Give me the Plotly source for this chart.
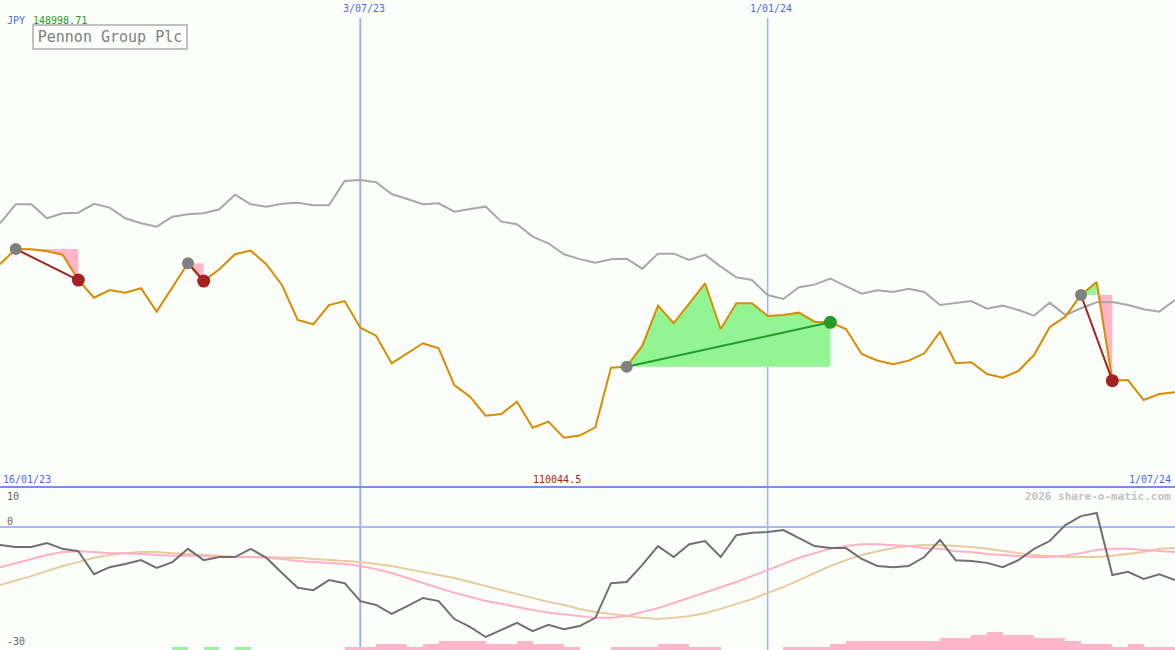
import pandas as pd
import plotly.graph_objects as go

# ---------------- data ----------------
weeks = pd.date_range("2023-01-23", periods=76, freq="7D")

price = [127860, 129080, 129060, 128900, 128630, 126600, 125190, 125800, 125590, 125940,
         124070, 125960, 127940, 126520, 127460, 128660, 128950, 127860, 126200, 123400,
         123060, 124600, 124920, 122790, 122150, 119940, 120740, 121540, 121140, 118200,
         117270, 115750, 115880, 116870, 114790, 115270, 113990, 114160, 114820, 119590,
         119670, 121350, 124550, 123140, 124740, 126340, 122680, 124740, 124740, 123720,
         123800, 123990, 123270, 123220, 122680, 120680, 120160, 119860, 120150, 120740,
         122440, 119940, 120020, 119080, 118790, 119320, 120600, 122820, 123670, 125400,
         126440, 118550, 118600, 117000, 117480, 117620]

relative = [131140, 132660, 132660, 131540, 131940, 131990, 132700, 132390, 131540, 131140,
            130870, 131670, 131860, 131940, 132260, 133420, 132660, 132470, 132700, 132780,
            132580, 132580, 134520, 134600, 134420, 133480, 133080, 132660, 132740, 132070,
            132280, 132470, 131270, 131060, 130070, 129540, 128660, 128270, 127990, 128260,
            128310, 127510, 128710, 128710, 128200, 128630, 127670, 126820, 126600, 125400,
            125080, 126020, 126230, 126710, 126120, 125510, 125780, 125640, 125910, 125640,
            124600, 124740, 124920, 124310, 124550, 124200, 123750, 124790, 123800, 124340,
            124820, 124840, 124600, 124260, 124070, 125000]

osc = [-4.6, -5.1, -5.1, -4.1, -5.6, -6.2, -12.1, -10.3, -9.5, -8.5,
       -10.5, -9.0, -5.6, -8.5, -7.7, -7.7, -5.6, -7.9, -11.8, -15.6,
       -16.2, -13.6, -14.4, -19.0, -20.0, -22.3, -20.3, -18.2, -19.0, -23.6,
       -25.6, -28.2, -26.4, -24.6, -26.7, -25.1, -26.2, -25.4, -23.3, -14.4,
       -14.1, -9.7, -4.9, -7.7, -4.4, -3.6, -7.7, -2.1, -1.5, -1.3,
       -0.8, -2.8, -4.9, -5.4, -5.4, -8.2, -10.0, -10.3, -10.0, -7.7,
       -3.3, -8.5, -8.7, -9.2, -10.3, -8.5, -5.6, -3.6, 0.5, 2.8,
       3.6, -12.3, -11.5, -13.3, -12.1, -13.6]

osc_fast = [-10.3, -9.2, -8.2, -7.2, -6.4, -6.2, -6.4, -6.7, -6.7, -6.9,
            -7.2, -7.4, -7.4, -7.4, -7.7, -7.7, -7.7, -7.9, -8.2, -8.7,
            -9.0, -9.2, -9.5, -10.0, -10.8, -11.8, -13.1, -14.4, -15.6, -16.9,
            -17.9, -19.0, -19.7, -20.5, -21.3, -21.9, -22.4, -22.9, -23.3, -23.3,
            -22.8, -21.8, -20.8, -19.5, -18.2, -16.9, -15.6, -14.1, -12.6, -11.0,
            -9.5, -7.9, -6.7, -5.6, -4.9, -4.4, -4.4, -4.6, -4.9, -5.4,
            -5.6, -6.2, -6.4, -6.9, -7.2, -7.4, -7.7, -7.7, -7.4, -6.7,
            -5.9, -5.6, -5.6, -5.9, -6.2, -6.4]

osc_slow = [-14.9, -13.8, -12.6, -11.3, -10.0, -9.0, -7.9, -7.2, -6.7, -6.4,
            -6.4, -6.7, -6.9, -7.2, -7.4, -7.7, -7.7, -7.7, -7.9, -7.9,
            -8.2, -8.5, -8.7, -9.0, -9.5, -10.0, -10.8, -11.5, -12.3, -13.1,
            -14.1, -15.1, -16.2, -17.2, -18.2, -19.2, -20.0, -21.0, -21.8, -22.3,
            -22.8, -23.3, -23.6, -23.3, -22.8, -22.1, -21.0, -19.7, -18.5, -16.9,
            -15.4, -13.6, -11.8, -10.0, -8.5, -7.2, -6.2, -5.4, -4.9, -4.6,
            -4.6, -4.9, -5.1, -5.6, -6.2, -6.7, -7.2, -7.4, -7.7, -7.7,
            -7.7, -7.4, -6.9, -6.4, -5.6, -5.4]

# signed histogram: positive = pink, negative = green
hist = [0, 0, 0, 0, 0, 0, 0, 0, 0, 0,
        0, -0.77, 0, -0.77, 0, -0.77, 0, 0, 0, 0,
        0, 0, 0.77, 0.77, 1.54, 1.54, 0.77, 1.54, 2.31, 2.31,
        2.31, 1.54, 1.54, 2.31, 1.54, 1.54, 0.77, 0, 0, 0.77,
        0.77, 0.77, 1.54, 1.54, 0.77, 0.77, 0, 0, 0, 0,
        0.77, 0.77, 0.77, 1.54, 2.31, 2.31, 2.31, 2.31, 2.31, 2.31,
        3.08, 3.08, 3.85, 4.62, 3.85, 3.85, 3.08, 3.08, 2.31, 1.54,
        1.54, 0.77, 1.54, 0.77, 0.77, 0]

# trades: (entry week index, exit week index)
trades = [(1, 5), (12, 13), (40, 53), (69, 71)]

PRICE_MIN, PRICE_MAX = 110044.5, 148998.71
OSC_MIN, OSC_MAX = -31.54, 10.0

# ---------------- styles ----------------
BG = "#fcfefc"
FONT = "DejaVu Sans Mono"
ORANGE = "#d98c00"
GREY_LINE = "#a8a8a8"
PINK_FILL = "#ffb6c9"
GREEN_FILL = "#93f493"
RED = "#a52222"
GREEN = "#25992a"
BLUE = "#5566ee"

W, H = 1175, 650
main_bottom = 163 / H
low_top = 162 / H

fig = go.Figure()

# ---------- trade fills ----------
for e, x in trades:
    ent = price[e]
    runs = []
    for i in range(e, x):
        up = price[i + 1] >= ent
        if runs and runs[-1][2] == up:
            runs[-1][1] = i + 1
        else:
            runs.append([i, i + 1, up])
    for a, b, up in runs:
        xs = [weeks[a]] + list(weeks[a:b + 1]) + [weeks[b]]
        ys = [ent] + price[a:b + 1] + [ent]
        col = GREEN_FILL if up else PINK_FILL
        fig.add_trace(go.Scatter(x=xs, y=ys, fill="toself", fillcolor=col,
                                 mode="lines", line=dict(width=0, color=col),
                                 hoverinfo="skip", showlegend=False))

# ---------- main lines ----------
fig.add_trace(go.Scatter(x=weeks, y=relative, mode="lines",
                         line=dict(color=GREY_LINE, width=2), showlegend=False))
fig.add_trace(go.Scatter(x=weeks, y=price, mode="lines",
                         line=dict(color=ORANGE, width=2), showlegend=False))

for e, x in trades:
    win = price[x] >= price[e]
    col = GREEN if win else RED
    fig.add_trace(go.Scatter(x=[weeks[e], weeks[x]], y=[price[e], price[x]],
                             mode="lines", line=dict(color=col, width=2),
                             showlegend=False))
    fig.add_trace(go.Scatter(x=[weeks[e]], y=[price[e]], mode="markers",
                             marker=dict(color="#808080", size=12), showlegend=False))
    fig.add_trace(go.Scatter(x=[weeks[x]], y=[price[x]], mode="markers",
                             marker=dict(color=col, size=13), showlegend=False))

# ---------- lower panel ----------
bar_x = weeks + pd.Timedelta(days=3.5)
fig.add_trace(go.Bar(x=bar_x, y=[abs(v) for v in hist], base=OSC_MIN,
                     width=7 * 86400000,
                     marker=dict(color=[PINK_FILL if v >= 0 else "#9af59a" for v in hist],
                                 line=dict(width=0)),
                     xaxis="x2", yaxis="y2", showlegend=False))
fig.add_trace(go.Scatter(x=weeks, y=osc_slow, mode="lines", xaxis="x2", yaxis="y2",
                         line=dict(color="#e6cc9e", width=2), showlegend=False))
fig.add_trace(go.Scatter(x=weeks, y=osc_fast, mode="lines", xaxis="x2", yaxis="y2",
                         line=dict(color="#ffb0c8", width=2), showlegend=False))
fig.add_trace(go.Scatter(x=weeks, y=osc, mode="lines", xaxis="x2", yaxis="y2",
                         line=dict(color="#707070", width=2), showlegend=False))

# ---------- shapes ----------
shapes = []
for d, wdt in (("2023-07-03", 2), ("2024-01-01", 1.5)):
    shapes.append(dict(type="line", xref="x", yref="paper", x0=d, x1=d,
                       y0=0, y1=1 - 18 / H, line=dict(color="#9fb0f7", width=wdt),
                       layer="below"))
shapes.append(dict(type="line", xref="paper", yref="paper", x0=0, x1=1,
                   y0=main_bottom, y1=main_bottom,
                   line=dict(color="#7b8cf0", width=2)))
shapes.append(dict(type="line", xref="paper", yref="y2", x0=0, x1=1, y0=0, y1=0,
                   line=dict(color="#a8b8f8", width=2), layer="below"))


def py(p):
    return 1 - p / H


def ann(text, x, y, color, size=10, xanchor="left", bold=False):
    if bold:
        text = "<b>" + text + "</b>"
    return dict(text=text, x=x / W, y=py(y), xref="paper", yref="paper",
                xanchor=xanchor, yanchor="middle", showarrow=False,
                font=dict(family=FONT, size=size, color=color))


annotations = [
    ann("JPY", 5, 21, BLUE),
    ann("148998.71", 31, 21, "#22a022"),
    ann("3/07/23", 364, 9, BLUE, xanchor="center"),
    ann("1/01/24", 771, 9, BLUE, xanchor="center"),
    ann("16/01/23", 1, 479, BLUE),
    ann("110044.5", 531, 479, "#b01c1c"),
    ann("1/07/24", 1173, 479, BLUE, xanchor="right"),
    ann("2026 share-o-matic.com", 1173, 496, "#c2c2c2", size=11, xanchor="right", bold=True),
    ann("10", 5, 496, "#666666"),
    ann("0", 5, 521, "#666666"),
    ann("-30", 5, 641, "#666666"),
    dict(text="Pennon Group Plc", x=32 / W, y=py(24), xref="paper", yref="paper",
         xanchor="left", yanchor="top", showarrow=False, width=148, align="center",
         bordercolor="#c0c0c0", borderwidth=2, borderpad=2, bgcolor=BG,
         font=dict(family=FONT, size=15, color="#808080")),
]

fig.update_layout(
    width=W, height=H,
    margin=dict(l=0, r=0, t=0, b=0),
    paper_bgcolor=BG, plot_bgcolor=BG,
    showlegend=False, bargap=0,
    xaxis=dict(domain=[0, 1], range=[weeks[0], weeks[-1]], visible=False,
               anchor="y", showgrid=False, zeroline=False),
    yaxis=dict(domain=[main_bottom, 1], range=[PRICE_MIN, PRICE_MAX], visible=False,
               showgrid=False, zeroline=False),
    xaxis2=dict(domain=[0, 1], range=[weeks[0], weeks[-1]], visible=False,
                anchor="y2", matches="x", showgrid=False, zeroline=False),
    yaxis2=dict(domain=[0, low_top], range=[OSC_MIN, OSC_MAX], visible=False,
                showgrid=False, zeroline=False),
    shapes=shapes,
    annotations=annotations,
)

fig.write_html(
    "out.html",
    config={"displayModeBar": False, "staticPlot": True},
    post_script="document.body.style.margin='0';document.body.style.overflow='hidden';"
                "document.body.style.background='" + BG + "';",
)
